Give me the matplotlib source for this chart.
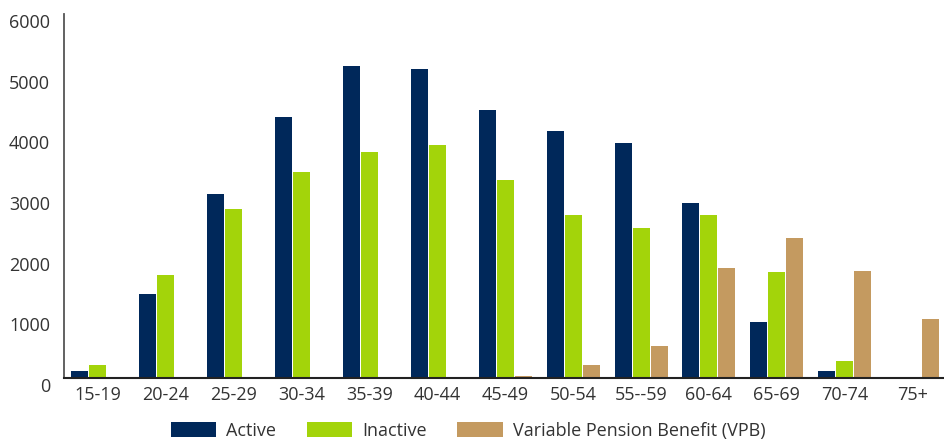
import matplotlib.pyplot as plt
import numpy as np

plt.rcParams['font.family'] = ['Open Sans', 'DejaVu Sans']

age_groups = ["15-19", "20-24", "25-29", "30-34", "35-39", "40-44", "45-49",
              "50-54", "55--59", "60-64", "65-69", "70-74", "75+"]
active = [120, 1380, 3030, 4310, 5140, 5090, 4410, 4070, 3880, 2880, 930, 120, 0]
inactive = [220, 1690, 2790, 3400, 3720, 3840, 3260, 2680, 2480, 2680, 1740, 280, 0]
vpb = [0, 0, 0, 0, 0, 0, 30, 215, 530, 1820, 2310, 1770, 975]

c_active = "#00285A"
c_inactive = "#A3D40A"
c_vpb = "#C49A60"
txt = "#333333"

fig = plt.figure(figsize=(9.44, 4.45), dpi=100)
ax = fig.add_axes([0.0678, 0.1506, 0.932, 0.818])

x = np.arange(len(age_groups))
w = 0.25
off = 0.265
ax.bar(x - off, active, w, color=c_active, label="Active")
ax.bar(x, inactive, w, color=c_inactive, label="Inactive")
ax.bar(x + off, vpb, w, color=c_vpb, label="Variable Pension Benefit (VPB)")

ax.set_xlim(-0.5, 12.46)
ax.set_ylim(0, 6000)
ax.set_yticks(range(0, 6001, 1000))
ax.set_xticks(x)
ax.set_xticklabels(age_groups)
ax.tick_params(axis='both', length=0, labelsize=13, colors=txt)
ax.tick_params(axis='y', pad=10)
ax.tick_params(axis='x', pad=6)
for lab in ax.get_yticklabels():
    lab.set_verticalalignment('top')

for s in ['top', 'right']:
    ax.spines[s].set_visible(False)
ax.spines['left'].set_color('#555555')
ax.spines['left'].set_linewidth(1.3)
ax.spines['bottom'].set_color('#222222')
ax.spines['bottom'].set_linewidth(1.5)

fig.legend(loc='lower center', bbox_to_anchor=(0.496, -0.008), ncol=3,
           frameon=False, fontsize=13, handlelength=2.5, handleheight=0.9,
           handletextpad=0.55, columnspacing=1.7, borderpad=0,
           labelcolor=txt)

fig.savefig("out.png", dpi=100)
